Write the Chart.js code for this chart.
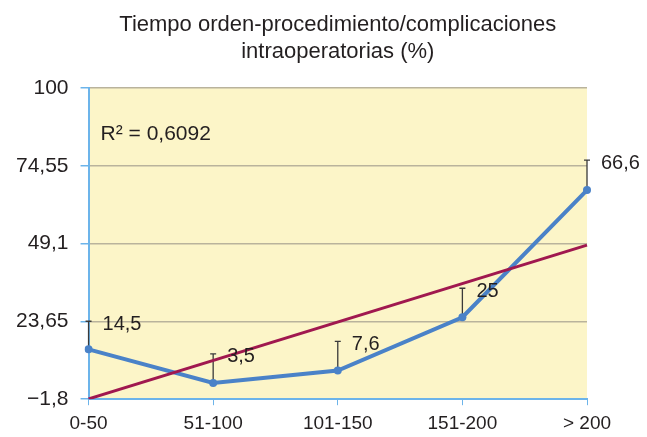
<!DOCTYPE html>
<html>
<head>
<meta charset="utf-8">
<script src="https://cdn.jsdelivr.net/npm/chart.js@4/dist/chart.umd.min.js"></script>
<style>
  html, body { margin: 0; padding: 0; background: #fff; }
</style>
</head>
<body>
<canvas id="myChart" width="647" height="437"></canvas>
<script>
// values
const categories = ['0-50', '51-100', '101-150', '151-200', '> 200'];
const complicaciones = [14.5, 3.5, 7.6, 25, 66.6];
const errorUp = [9.2, 9.5, 9.5, 9.5, 9.8];
const trendline = [-1.7, null, null, null, 48.6];
const yTicks = [-1.8, 23.65, 49.1, 74.55, 100];
const titleLines = ['Tiempo orden-procedimiento/complicaciones', 'intraoperatorias (%)'];
const r2Text = 'R\u00b2 = 0,6092';

const FONT = "'Liberation Sans', Arial, Helvetica, sans-serif";
const TEXT = '#231f20';

function fmt(v) {
    return String(v).replace('.', ',').replace('-', '\u2212');
}

// yellow plot area background
const plotBackground = {
    id: 'plotBackground',
    beforeDraw(chart) {
        const { ctx, chartArea } = chart;
        ctx.save();
        ctx.fillStyle = '#fcf5c8';
        ctx.fillRect(chartArea.left, chartArea.top, chartArea.right - chartArea.left, chartArea.bottom - chartArea.top);
        ctx.restore();
    }
};

// upper error bars, drawn under the lines
const errorBars = {
    id: 'errorBars',
    beforeDatasetsDraw(chart) {
        const { ctx, scales } = chart;
        ctx.save();
        ctx.strokeStyle = '#3a3a3a';
        ctx.lineWidth = 1.3;
        complicaciones.forEach((v, i) => {
            const x = scales.x.getPixelForValue(i);
            const y0 = scales.y.getPixelForValue(v);
            const y1 = scales.y.getPixelForValue(v + errorUp[i]);
            ctx.beginPath();
            ctx.moveTo(x, y0);
            ctx.lineTo(x, y1);
            ctx.moveTo(x - 3, y1);
            ctx.lineTo(x + 3, y1);
            ctx.stroke();
        });
        ctx.restore();
    }
};

// title over the plot area, value labels and R squared text
const labelsPlugin = {
    id: 'labelsPlugin',
    afterDatasetsDraw(chart) {
        const { ctx, scales, chartArea } = chart;
        ctx.save();
        ctx.fillStyle = TEXT;
        ctx.font = '20px ' + FONT;
        ctx.textAlign = 'left';
        ctx.textBaseline = 'middle';
        complicaciones.forEach((v, i) => {
            const x = scales.x.getPixelForValue(i);
            const y = scales.y.getPixelForValue(v + errorUp[i]);
            ctx.fillText(fmt(v), x + 14, y + 3);
        });
        ctx.font = '21px ' + FONT;
        ctx.fillText(r2Text, chartArea.left + 12, chartArea.top + 46);

        ctx.font = '22px ' + FONT;
        ctx.textAlign = 'center';
        const cx = (chartArea.left + chartArea.right) / 2;
        titleLines.forEach((t, i) => {
            ctx.fillText(t, cx, 25 + i * 27);
        });
        ctx.restore();
    }
};

const ctx = document.getElementById('myChart').getContext('2d');
new Chart(ctx, {
    type: 'line',
    data: {
        labels: categories,
        datasets: [
            {
                label: 'Tendencia',
                data: trendline,
                borderColor: '#a0184f',
                borderWidth: 3,
                pointRadius: 0,
                spanGaps: true,
                order: 0
            },
            {
                label: 'Complicaciones',
                data: complicaciones,
                borderColor: '#4a82c8',
                backgroundColor: '#4a82c8',
                borderWidth: 4,
                pointRadius: 4,
                pointBackgroundColor: '#4a82c8',
                pointBorderWidth: 0,
                order: 1
            }
        ]
    },
    options: {
        responsive: false,
        animation: false,
        devicePixelRatio: 1,
        layout: { padding: { left: 4, right: 60, top: 88, bottom: -5 } },
        plugins: {
            legend: { display: false },
            tooltip: { enabled: false },
            title: { display: false }
        },
        scales: {
            x: {
                offset: false,
                grid: {
                    drawOnChartArea: false,
                    tickLength: 6,
                    tickColor: '#6cb4ea'
                },
                border: { color: '#6cb4ea', width: 2 },
                ticks: {
                    color: TEXT,
                    font: { family: FONT, size: 19 },
                    padding: 7,
                    maxRotation: 0
                }
            },
            y: {
                min: -1.8,
                max: 100,
                afterBuildTicks(scale) {
                    scale.ticks = yTicks.map(v => ({ value: v }));
                },
                grid: {
                    color: '#b9b39c',
                    lineWidth: 1.5,
                    tickLength: 8,
                    tickColor: '#6cb4ea'
                },
                border: { color: '#6cb4ea', width: 2 },
                ticks: {
                    color: TEXT,
                    font: { family: FONT, size: 21 },
                    padding: 12,
                    callback: v => fmt(v)
                }
            }
        }
    },
    plugins: [plotBackground, errorBars, labelsPlugin]
});
</script>
</body>
</html>
